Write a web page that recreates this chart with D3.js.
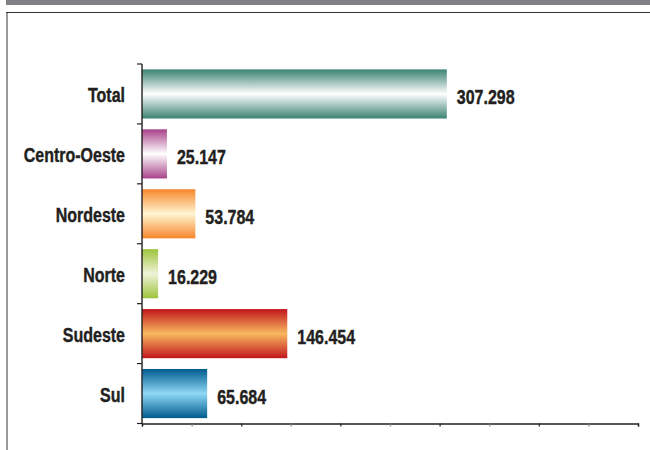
<!DOCTYPE html>
<html lang="pt">
<head>
<meta charset="UTF-8">
<title>Regiões</title>
<script src="https://d3js.org/d3.v7.min.js"></script>
<style>
    body { margin: 0; background: #fff; }
    .lbl {
        font-family: "Liberation Sans", Arial, sans-serif;
        font-weight: bold;
        font-size: 19.5px;
        fill: #231f20;
        stroke: #231f20;
        stroke-width: 0.4px;
    }
</style>
</head>
<body>
<script>
    // data
    const categories = ["Total", "Centro-Oeste", "Nordeste", "Norte", "Sudeste", "Sul"];
    const values = [307298, 25147, 53784, 16229, 146454, 65684];
    const xTicks = [0, 50000, 100000, 150000, 200000, 250000, 300000, 350000, 400000, 450000, 500000];

    // gradient colours: [edge, centre] per bar
    const palette = [
        ["#3a8272", "#ffffff"],
        ["#a8428a", "#ffffff"],
        ["#f6862a", "#fff6d2"],
        ["#9dc43c", "#eef3d8"],
        ["#c0161c", "#f9b860"],
        ["#005b8e", "#8fd8f5"]
    ];

    const width = 650, height = 450;
    const x0 = 142, x1 = 638, yTop = 64, yBot = 423.5;
    const narrow = 0.82; // condensed look

    const br = d3.formatLocale({ decimal: ",", thousands: ".", grouping: [3], currency: ["R$", ""] });
    const fmt = br.format(",d");

    const svg = d3.select("body").append("svg")
        .attr("width", width)
        .attr("height", height);

    // frame
    svg.append("rect").attr("x", 6).attr("y", 0).attr("width", width - 6).attr("height", 5).attr("fill", "#808086");
    svg.append("line").attr("x1", 7).attr("x2", 7).attr("y1", 12).attr("y2", height)
        .attr("stroke", "#9a9a9a").attr("stroke-width", 2);
    svg.append("line").attr("x1", 6).attr("x2", width).attr("y1", 12.5).attr("y2", 12.5)
        .attr("stroke", "#333").attr("stroke-width", 1.2);

    const x = d3.scaleLinear().domain([0, 500000]).range([x0, x1]);
    const y = d3.scaleBand().domain(categories).range([yTop, yBot]).paddingInner(0.18).paddingOuter(0.09);

    const defs = svg.append("defs");
    categories.forEach((c, i) => {
        const g = defs.append("linearGradient")
            .attr("id", "grad" + i)
            .attr("x1", 0).attr("y1", 0).attr("x2", 0).attr("y2", 1);
        g.append("stop").attr("offset", "0%").attr("stop-color", palette[i][0]);
        g.append("stop").attr("offset", "50%").attr("stop-color", palette[i][1]);
        g.append("stop").attr("offset", "100%").attr("stop-color", palette[i][0]);
    });

    // bars
    svg.append("g").selectAll("rect")
        .data(categories)
        .join("rect")
        .attr("x", x(0))
        .attr("y", d => y(d))
        .attr("width", (d, i) => x(values[i]) - x(0))
        .attr("height", y.bandwidth())
        .attr("fill", (d, i) => `url(#grad${i})`);

    // x axis
    const xAxis = svg.append("g")
        .attr("transform", `translate(0,${yBot})`)
        .call(d3.axisBottom(x).tickValues(xTicks).tickSize(3).tickFormat(""));
    xAxis.select(".domain").attr("stroke", "#231f20").attr("stroke-width", 1.4);
    xAxis.selectAll(".tick line").attr("stroke", (d, i) => i % 2 ? "#888" : "#231f20").attr("stroke-width", 1.2);

    // y axis: ticks at category boundaries
    const yEdges = categories.map(c => y(c) - y.step() * y.paddingInner() / 2).concat([yBot]);
    const yAxis = svg.append("g").attr("transform", `translate(${x0},0)`);
    yAxis.append("line").attr("y1", yTop).attr("y2", yBot).attr("stroke", "#231f20").attr("stroke-width", 1.4);
    yAxis.selectAll(".yt")
        .data(yEdges)
        .join("line")
        .attr("class", "yt")
        .attr("x1", -5).attr("x2", 0)
        .attr("y1", d => d).attr("y2", d => d)
        .attr("stroke", "#231f20").attr("stroke-width", 1.2);

    // category labels
    svg.append("g").selectAll("text")
        .data(categories)
        .join("text")
        .attr("class", "lbl")
        .attr("transform", d => `translate(125,${y(d) + y.bandwidth() / 2 + 1.5}) scale(${narrow},1)`)
        .attr("dy", "0.36em")
        .attr("text-anchor", "end")
        .text(d => d);

    // value labels
    svg.append("g").selectAll("text")
        .data(values)
        .join("text")
        .attr("class", "lbl")
        .attr("transform", (d, i) => `translate(${x(d) + 10},${y(categories[i]) + y.bandwidth() / 2 + 3}) scale(${narrow},1)`)
        .attr("dy", "0.36em")
        .text(d => fmt(d));
</script>
</body>
</html>
